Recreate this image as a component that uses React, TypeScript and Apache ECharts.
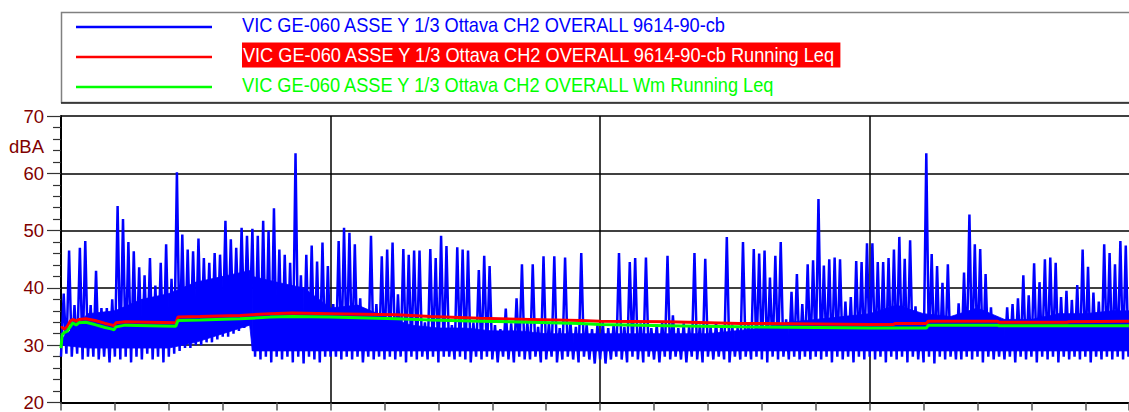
import React, { useEffect, useRef } from "react";
import * as echarts from "echarts";

const SERIES_NAMES = [
  "VIC GE-060 ASSE Y 1/3 Ottava CH2 OVERALL 9614-90-cb",
  "VIC GE-060 ASSE Y 1/3 Ottava CH2 OVERALL 9614-90-cb Running Leq",
  "VIC GE-060 ASSE Y 1/3 Ottava CH2 OVERALL Wm Running Leq",
];
const Y_UNIT = "dBA";
const SAMPLE_STEP = 0.1; // time between blue samples (axis units)
const MAJOR_X = [5, 10, 15];

// blue series: per-sample low and high readings (dBA)
const LOW = [
  28, 28.5, 28, 28.5, 27.5, 28, 28, 27.5, 28, 27,
  28, 27.5, 28, 27, 28, 27.5, 28.5, 27.5, 28, 27,
  28, 28.5, 29, 29.5, 29.5, 30, 30, 30.5, 30.5, 31,
  31.5, 31.5, 32, 32.5, 33, 33.5, 28, 27.5, 28, 27,
  28, 27.5, 28, 27, 28, 26.8, 28, 27.5, 27, 28,
  28, 28, 27.5, 28, 27.5, 28, 27, 28, 27.5, 28,
  27.5, 28, 27.5, 28, 27, 28, 27.5, 28, 27.5, 28,
  27, 28, 28, 27.5, 28, 27.5, 27, 28, 27.5, 28,
  27.5, 27, 28, 27.5, 27, 28, 27.5, 27.5, 28, 27,
  27.5, 28, 27, 27.5, 28, 27.5, 27, 28, 27.5, 26.8,
  27.5, 26.8, 27.5, 28, 27.5, 27, 28, 27.5, 27, 28,
  27.5, 27, 28, 27.5, 28, 27.5, 27, 28, 27.5, 27,
  28, 27.5, 28, 27.5, 27, 28, 27.5, 28, 27.5, 28,
  27.5, 27, 28, 27.5, 28, 27.5, 28, 27.5, 28, 27.5,
  28, 27.5, 28, 27, 28, 27.5, 28, 27, 28, 27.5,
  28, 27.5, 28, 27, 28, 27.5, 28, 27, 28, 27.5,
  27, 28, 26.8, 28, 27.5, 28, 27.5, 27.5, 28, 27.5,
  28, 27, 28, 27.5, 28, 27.5, 28, 27, 28, 27.5,
  28, 27, 28, 27.5, 28, 27, 28, 27.5, 28, 27.5,
  28, 27, 28, 27.5, 28, 27.5, 28, 27.5, 28,
];
const HIGH = [
  39, 46.5, 37, 47, 48.2, 37, 43, 36.5, 36.5, 38,
  54.3, 52, 48, 46.4, 43.6, 42.2, 45.2, 40.4, 44.4, 47.6,
  41.6, 60.2, 49.3, 46.7, 46.4, 48.6, 45.2, 44.4, 46.1, 45.8,
  51.7, 48.5, 47, 50.5, 49.1, 50.3, 49.1, 51.7, 50, 53.9,
  46.7, 45.8, 44.4, 63.5, 42.2, 45.8, 47.4, 44.6, 47.9, 43.8,
  37.2, 48.2, 50.5, 49.6, 47.6, 38.2, 34.5, 49.1, 37.2, 45.5,
  46.7, 47.9, 38.9, 46.8, 45.8, 46.5, 46.5, 34, 46.8, 45.2,
  49.1, 47.3, 33.5, 47.1, 46.7, 46.5, 34, 43.1, 45.6, 43.8,
  33.5, 32.8, 36.4, 33.8, 38.2, 44.1, 34, 44.1, 33.2, 45.5,
  33.8, 45.5, 33, 45.3, 34, 33.2, 46.1, 33.6, 32.8, 33.5,
  34, 33, 33.6, 46.1, 33.2, 44.5, 45.2, 33.8, 45.3, 33,
  33.6, 34, 45.6, 35.2, 33, 33.8, 33.2, 46.1, 33.6, 45.1,
  33.2, 34, 33.5, 48.9, 33.6, 33, 48, 34, 46.8, 46,
  46.5, 41.8, 45.6, 48, 34.5, 39.3, 42.4, 37.2, 44.1, 44.8,
  55.5, 43.9, 45, 45.3, 45, 37.6, 38.4, 44.7, 44.5, 47.8,
  47.8, 44.5, 44.5, 45.2, 46.7, 48.9, 45.1, 48.3, 36.8, 34.5,
  63.5, 45.9, 43.8, 40.9, 44.1, 35, 37.3, 42.7, 52.8, 47.6,
  46.8, 42.4, 36.6, 35, 34.5, 36.6, 37.2, 38.2, 42.2, 38.7,
  44.3, 41, 45, 45.3, 44.4, 38.4, 39.5, 37.9, 40.5, 46.7,
  43.7, 39.2, 37.6, 47.6, 46.1, 44.1, 48.2, 47.4, 38.7,
];

// dense (solid) part of the blue trace: lower and upper edges
const BAND_X = [
  0, 0.5, 1.0, 1.5, 2.0, 2.5, 3.0, 3.5, 3.55, 4.0,
  4.5, 5.0, 5.5, 6.0, 6.5, 7.0, 7.5, 8.0, 8.5, 9.0,
  9.5, 10.0, 10.5, 11.0, 11.5, 12.0, 12.5, 13.0, 13.5, 14.0,
  14.5, 15.0, 15.5, 16.0, 16.5, 17.0, 17.5, 18.0, 18.5, 19.0,
  19.5, 19.81,
];
const BAND_TOP = [
  31, 35.5, 36, 38, 39, 41, 42, 43, 42, 41,
  40, 36.5, 37, 35, 33.5, 33, 33, 32.5, 32.5, 32,
  32, 32, 32, 32, 32, 32, 32.5, 33, 34, 34.5,
  35, 35.5, 37, 35.5, 35, 36.5, 34.5, 34.5, 35.5, 35.5,
  36, 36,
];
const BAND_BOTTOM = [
  30, 29.5, 29.5, 29.5, 29.5, 30.5, 32, 33.5, 29, 29,
  29, 29, 29, 29, 29, 29, 29, 29, 29, 29,
  29, 29, 29, 29, 29, 29, 29, 29, 29, 29,
  29, 29, 29, 29, 29, 29, 29, 29, 29, 29,
  29, 29,
];

// running Leq curves
const LEQ_X = [
  0, 0.02, 0.06, 0.11, 0.17, 0.22, 0.28, 0.33, 0.46, 0.63,
  0.82, 0.95, 0.98, 1.02, 1.19, 1.65, 2.13, 2.17, 2.58, 3.32,
  3.88, 4.29, 5.0, 6.23, 6.85, 7.77, 8.7, 9.63, 10.0, 11.24,
  12.6, 14.03, 15.01, 15.44, 15.47, 16.05, 16.09, 17.37, 17.4, 18.66,
  18.7, 19.81,
];
const LEQ_RED = [
  33.0, 33.1, 32.8, 33.2, 34.2, 34.5, 34.2, 34.5, 34.6, 34.3,
  33.8, 33.5, 33.4, 33.9, 34.1, 34.0, 33.9, 34.9, 35.0, 35.2,
  35.5, 35.6, 35.5, 35.3, 35.0, 34.7, 34.5, 34.3, 34.2, 34.1,
  33.8, 33.7, 33.6, 33.6, 33.8, 33.8, 34.2, 34.2, 34.0, 34.0,
  34.1, 34.2,
];
const LEQ_GREEN = [
  29.5, 31.8, 32.2, 32.4, 33.2, 33.9, 33.5, 33.9, 34.0, 33.6,
  33.1, 32.8, 32.7, 33.2, 33.5, 33.4, 33.3, 34.3, 34.4, 34.6,
  34.9, 35.0, 34.9, 34.6, 34.4, 34.2, 34.0, 33.8, 33.6, 33.4,
  33.2, 33.1, 33.0, 33.0, 33.0, 33.0, 33.5, 33.5, 33.4, 33.4,
  33.4, 33.4,
];

const COLORS = ["#0000FF", "#FF0000", "#00FF00"];
const FONT = '"Liberation Sans", Arial, Helvetica, sans-serif';

export default function App() {
  const ref = useRef<HTMLDivElement>(null);
  useEffect(() => {
    if (!ref.current) return;
    const chart = echarts.init(ref.current, undefined, { renderer: "svg" });
    const blue: number[][] = [];
    LOW.forEach((lo, i) => {
      blue.push([i * SAMPLE_STEP, lo]);
      blue.push([i * SAMPLE_STEP + SAMPLE_STEP / 2, HIGH[i]]);
    });
    const band = BAND_X.map((x, i) => [x, BAND_BOTTOM[i], BAND_TOP[i]]);
    const red = LEQ_X.map((x, i) => [x, LEQ_RED[i]]);
    const green = LEQ_X.map((x, i) => [x, LEQ_GREEN[i]]);

    const legendY = [27, 57, 87];
    const graphic: any[] = [
      {
        type: "rect",
        shape: { x: 61.5, y: 12.5, width: 1100, height: 90 },
        style: { fill: "#fff", stroke: "#808080", lineWidth: 1.5 },
        silent: true,
      },
      {
        type: "line",
        shape: { x1: 61, y1: 103, x2: 1129, y2: 103 },
        style: { stroke: "#222", lineWidth: 1.5 },
        silent: true,
      },
    ];
    SERIES_NAMES.forEach((name, i) => {
      graphic.push({
        type: "line",
        shape: { x1: 76, y1: legendY[i], x2: 212, y2: legendY[i] },
        style: { stroke: COLORS[i], lineWidth: 2.5 },
        silent: true,
      });
      const isSel = i === 1;
      graphic.push({
        type: "text",
        x: 242,
        y: legendY[i] - 2,
        scaleX: 0.91,
        silent: true,
        style: {
          text: name,
          fill: isSel ? "#FFFFFF" : COLORS[i],
          font: `20px ${FONT}`,
          textAlign: "left",
          verticalAlign: "middle",
          textVerticalAlign: "middle",
          backgroundColor: isSel ? "#FF0000" : undefined,
          padding: isSel ? [3, 4, 2, 1] : 0,
        },
      });
    });
    graphic.push({
      type: "text",
      x: 44,
      y: 146,
      silent: true,
      style: {
        text: Y_UNIT,
        fill: "#800000",
        font: `18.5px ${FONT}`,
        textAlign: "right",
        verticalAlign: "middle",
        textVerticalAlign: "middle",
      },
    });

    chart.setOption({
      animation: false,
      backgroundColor: "#fff",
      grid: { left: 61, right: 0, top: 116, bottom: 8, containLabel: false },
      xAxis: {
        type: "value",
        min: 0,
        max: 19.81,
        interval: 1,
        axisLabel: { show: false },
        axisLine: { show: true, lineStyle: { color: "#000", width: 2 } },
        axisTick: { show: true, inside: false, length: 8, lineStyle: { color: "#555", width: 1.5 } },
        splitLine: { show: false },
      },
      yAxis: {
        type: "value",
        min: 20,
        max: 70,
        interval: 10,
        axisLabel: {
          color: "#800000",
          fontSize: 18.5,
          fontFamily: FONT,
          margin: 17,
        },
        axisLine: { show: true, lineStyle: { color: "#000", width: 2 } },
        axisTick: { show: true, inside: false, length: 14, lineStyle: { color: "#333", width: 1.2 } },
        minorTick: { show: true, splitNumber: 5, length: 8, lineStyle: { color: "#333", width: 1.2 } },
        splitLine: { show: true, lineStyle: { color: "#000", width: 1.5 } },
      },
      graphic,
      series: [
        {
          name: "band",
          type: "custom",
          data: band,
          silent: true,
          z: 2,
          encode: { x: 0, y: [1, 2] },
          renderItem: (params: any, api: any) => {
            const i = params.dataIndex;
            if (i >= band.length - 1) return null;
            const a = band[i];
            const b = band[i + 1];
            const p1 = api.coord([a[0], a[1]]);
            const p2 = api.coord([a[0], a[2]]);
            const p3 = api.coord([b[0], b[2]]);
            const p4 = api.coord([b[0], b[1]]);
            return {
              type: "polygon",
              shape: { points: [p1, p2, p3, p4] },
              style: { fill: COLORS[0], stroke: COLORS[0], lineWidth: 0.8 },
            };
          },
          markLine: {
            silent: true,
            symbol: "none",
            z: 1,
            label: { show: false },
            lineStyle: { color: "#000", width: 1.5, type: "solid" },
            data: MAJOR_X.map((x) => ({ xAxis: x })),
          },
        },
        {
          name: SERIES_NAMES[0],
          type: "line",
          data: blue,
          showSymbol: false,
          symbol: "none",
          lineStyle: { color: COLORS[0], width: 2.5 },
          z: 2,
        },
        {
          name: SERIES_NAMES[1],
          type: "line",
          data: red,
          showSymbol: false,
          symbol: "none",
          lineStyle: { color: COLORS[1], width: 3 },
          z: 3,
        },
        {
          name: SERIES_NAMES[2],
          type: "line",
          data: green,
          showSymbol: false,
          symbol: "none",
          lineStyle: { color: COLORS[2], width: 3 },
          z: 4,
        },
      ],
    });
    return () => chart.dispose();
  }, []);
  return (
    <div
      ref={ref}
      style={{ position: "absolute", left: 0, top: 0, width: 1129, height: 412 }}
    />
  );
}
